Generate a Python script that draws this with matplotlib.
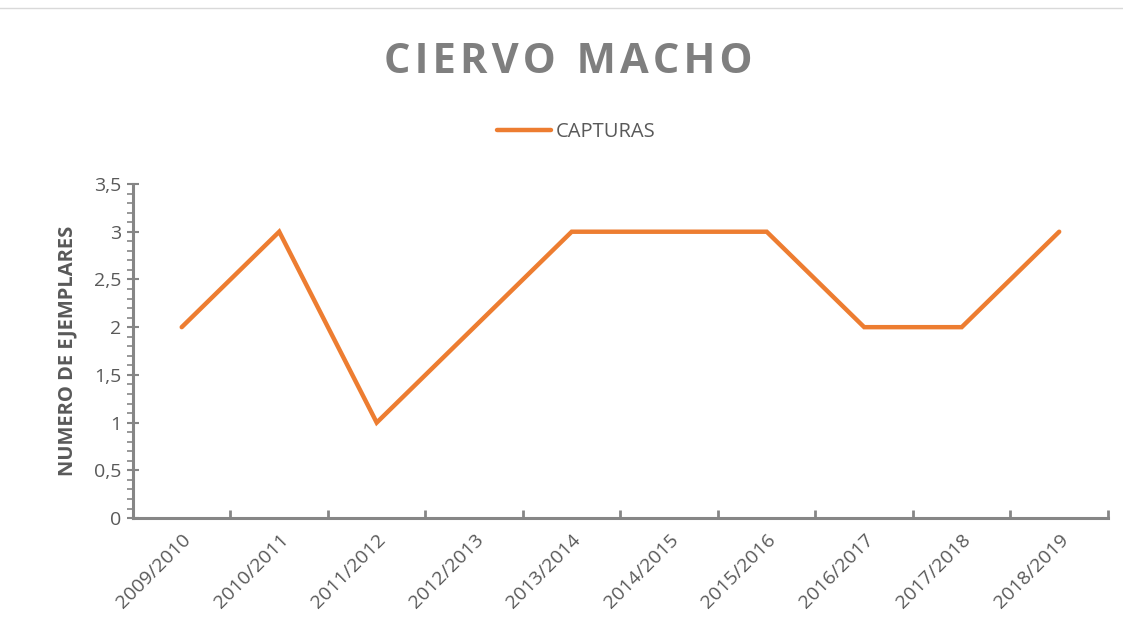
import numpy as np
import matplotlib.pyplot as plt
from matplotlib.ticker import MultipleLocator, FixedLocator, FuncFormatter

# Data
temporadas = ['2009/2010', '2010/2011', '2011/2012', '2012/2013', '2013/2014',
              '2014/2015', '2015/2016', '2016/2017', '2017/2018', '2018/2019']
capturas = [2, 3, 1, 2, 3, 3, 3, 2, 2, 3]

ORANGE = '#ED7D31'
AXIS_GRAY = '#868686'
TEXT_GRAY = '#595959'

plt.rcParams['font.family'] = ['Open Sans', 'DejaVu Sans']

fig = plt.figure(figsize=(11.23, 6.38), dpi=100)
ax = fig.add_axes([0.1184, 0.188, 0.8682, 0.5236])

x = np.arange(len(temporadas))
ax.plot(x, capturas, color=ORANGE, lw=3.2, solid_capstyle='round',
        solid_joinstyle='miter', label='CAPTURAS')

ax.set_xlim(-0.5, len(temporadas) - 0.5)
ax.set_ylim(0, 3.5)

# spines
for s in ['top', 'right']:
    ax.spines[s].set_visible(False)
for s in ['left', 'bottom']:
    ax.spines[s].set_color(AXIS_GRAY)
    ax.spines[s].set_linewidth(2.2)

# y ticks
ax.yaxis.set_major_locator(MultipleLocator(0.5))
ax.yaxis.set_minor_locator(MultipleLocator(0.1))
ax.yaxis.set_major_formatter(FuncFormatter(lambda v, p: f'{v:g}'.replace('.', ',')))
ax.tick_params(axis='y', which='major', direction='inout', length=9, width=1.5,
               color=AXIS_GRAY, labelsize=14, labelcolor=TEXT_GRAY, pad=4)
ax.tick_params(axis='y', which='minor', direction='out', length=4, width=1.2,
               color=AXIS_GRAY)

# x ticks: labels at centers, marks at boundaries
ax.xaxis.set_major_locator(FixedLocator(x))
ax.set_xticklabels(temporadas, rotation=45, ha='right', rotation_mode='anchor')
ax.xaxis.set_minor_locator(FixedLocator(np.arange(-0.5, len(temporadas), 1.0)))
ax.tick_params(axis='x', which='major', length=0, labelsize=14,
               labelcolor=TEXT_GRAY, pad=9)
ax.tick_params(axis='x', which='minor', direction='in', length=6, width=2,
               color=AXIS_GRAY)

ax.set_ylabel('NUMERO DE EJEMPLARES', fontsize=14.5, fontweight='bold',
              color=TEXT_GRAY, labelpad=12)

titulo = '\u200a'.join('CIERVO') + '\u2002' + '\u200a'.join('MACHO')
fig.text(0.506, 0.902, titulo, ha='center', va='center',
         fontsize=30, fontweight='bold', color='#7F7F7F')

leg = fig.legend(loc='center', bbox_to_anchor=(0.513, 0.793), frameon=False,
                 fontsize=14.5, handlelength=2.7, handletextpad=0.2)
for t in leg.get_texts():
    t.set_color(TEXT_GRAY)

# faint frame line at top
fig.add_artist(plt.Line2D([0, 1], [0.987, 0.987], color='#D9D9D9', lw=1))

fig.savefig('out.png', dpi=100)
